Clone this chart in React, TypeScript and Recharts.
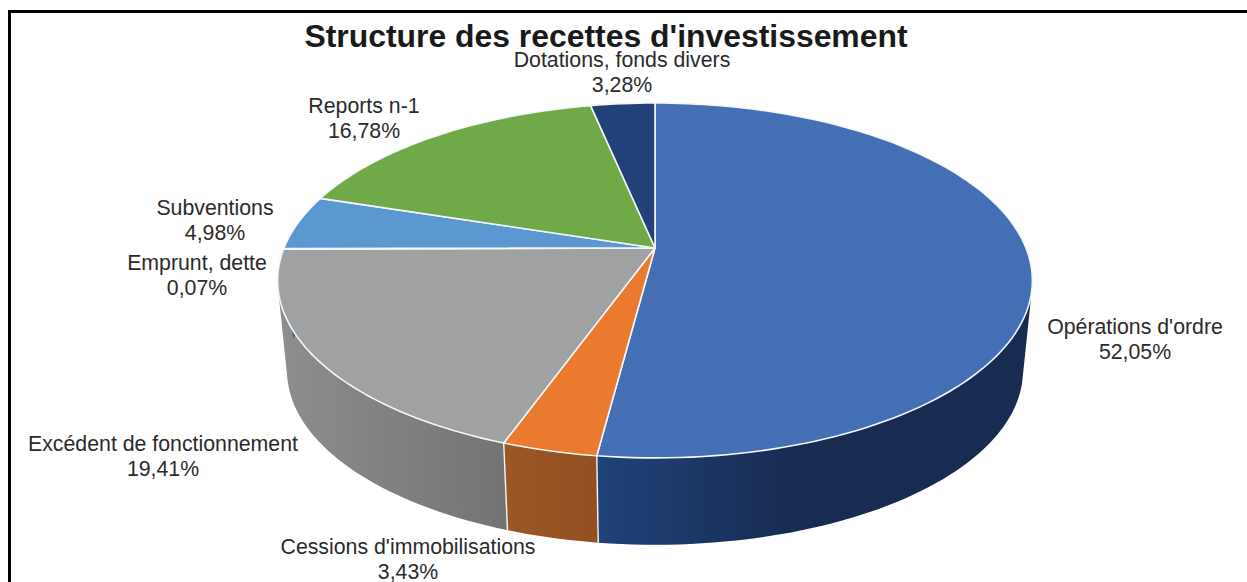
import { PieChart, Pie } from "recharts";

const categories = [
  "Opérations d'ordre",
  "Cessions d'immobilisations",
  "Excédent de fonctionnement",
  "Emprunt, dette",
  "Subventions",
  "Reports n-1",
  "Dotations, fonds divers",
];
const values = [52.05, 3.43, 19.41, 0.07, 4.98, 16.78, 3.28];

const topColors = ["#446fb5", "#e97a2e", "#9fa1a3", "#f2b705", "#5b97d1", "#70aa48", "#234179"];
// left / right colours of the side wall of each slice
const wallColors = [
  ["#1f4279", "#182b50"],
  ["#9c5726", "#934f22"],
  ["#8e8e8e", "#737373"],
  ["#8e8e8e", "#8e8e8e"],
  ["#3d6a94", "#3d6a94"],
  ["#4f7a32", "#4f7a32"],
  ["#182d52", "#182d52"],
];
// centre x, first baseline
const labelSpots = [
  [1135, 334],
  [408, 554],
  [163, 451],
  [197, 270],
  [215, 215],
  [364, 113],
  [622, 67],
];

const data = categories.map((name, i) => ({ name, value: values[i] }));

const WIDTH = 1247;
const HEIGHT = 582;
const CX = 655;
const CY = 248;
const RADIUS = 371;
const SQUASH = 171.5 / 371; // flattening of the disc
const TILT = 0.183; // perspective strength
const SEAM = "#f4f6f8";
const TEXT = "#2b2b2b";
const FONT = "'Liberation Sans', Arial, sans-serif";

// recharts angle (degrees, counter clockwise from 3 o'clock) -> point on the tilted disc
function topPoint(angle: number, cx: number, cy: number, r: number) {
  const rad = (angle * Math.PI) / 180;
  const u = Math.cos(rad);
  const v = Math.sin(rad);
  const d = 1 + TILT * v;
  return { x: cx + (r * u) / d, y: cy - (r * SQUASH * v) / d };
}

// same point on the bottom disc
function bottomPoint(angle: number, cx: number, cy: number, r: number) {
  const p = topPoint(angle, cx, cy, r);
  return { x: cx + 0.975 * (p.x - cx), y: 0.98 * p.y + 96 };
}

function arcAngles(start: number, end: number) {
  const steps = Math.max(2, Math.ceil(Math.abs(end - start) / 1.5));
  const out: number[] = [];
  for (let i = 0; i <= steps; i++) out.push(start + ((end - start) * i) / steps);
  return out;
}

const sinOf = (deg: number) => Math.sin((deg * Math.PI) / 180);
const cosOf = (deg: number) => Math.cos((deg * Math.PI) / 180);

function TopSlice(props: any) {
  const { cx, cy, outerRadius, startAngle, endAngle, index } = props;
  const pts = arcAngles(startAngle, endAngle).map((a) => topPoint(a, cx, cy, outerRadius));
  const d =
    `M${cx},${cy} ` + pts.map((p) => `L${p.x.toFixed(2)},${p.y.toFixed(2)}`).join(" ") + " Z";
  return <path d={d} fill={topColors[index]} stroke={SEAM} strokeWidth={1.6} strokeLinejoin="round" />;
}

function WallSlice(props: any) {
  const { cx, cy, outerRadius, startAngle, endAngle, index } = props;
  const angles = arcAngles(startAngle, endAngle);
  // slices at the back of the pie have no visible wall
  if (!angles.some((a) => sinOf(a) < -0.001)) return <g />;
  const top = angles.map((a) => topPoint(a, cx, cy, outerRadius));
  const bottom = angles.map((a) => bottomPoint(a, cx, cy, outerRadius));
  // one quad per step, all wound the same way, so the tangent edge of the wall comes out straight
  const quads: string[] = [];
  for (let i = 0; i < angles.length - 1; i++) {
    const q = [top[i], top[i + 1], bottom[i + 1], bottom[i]];
    let area = 0;
    q.forEach((p, k) => {
      const n = q[(k + 1) % 4];
      area += p.x * n.y - n.x * p.y;
    });
    if (area < 0) q.reverse();
    quads.push(q.map((p, k) => `${k ? "L" : "M"}${p.x.toFixed(2)},${p.y.toFixed(2)}`).join(" ") + " Z");
  }
  const xs = [...top, ...bottom].map((p) => p.x);
  const id = `wall-${index}`;
  const [left, right] = wallColors[index];
  // the big blue wall reaches its dark tone well before the right edge
  const x2 = index === 0 ? 800 : Math.max(...xs);
  const x1 = index === 0 ? 597 : Math.min(...xs);
  const showSeam = sinOf(startAngle) < 0 && Math.abs(cosOf(startAngle)) < 0.8;
  return (
    <g>
      <defs>
        <linearGradient id={id} gradientUnits="userSpaceOnUse" x1={x1} y1={0} x2={x2} y2={0}>
          <stop offset="0" stopColor={left} />
          <stop offset="1" stopColor={right} />
        </linearGradient>
      </defs>
      <path d={quads.join(" ")} fill={`url(#${id})`} fillRule="nonzero" />
      {showSeam && (
        <line x1={top[0].x} y1={top[0].y} x2={bottom[0].x} y2={bottom[0].y} stroke={SEAM} strokeWidth={1.4} />
      )}
    </g>
  );
}

function SliceLabel(props: any) {
  const { index, name, value } = props;
  const [x, y] = labelSpots[index];
  return (
    <text x={x} y={y} textAnchor="middle" fill={TEXT} fontFamily={FONT} fontSize={21.3}>
      <tspan x={x}>{name}</tspan>
      <tspan x={x} dy={24.5}>
        {value.toFixed(2).replace(".", ",")}%
      </tspan>
    </text>
  );
}

export default function App() {
  return (
    <div style={{ position: "absolute", left: 0, top: 0, width: WIDTH, height: HEIGHT, background: "#fff" }}>
      <PieChart width={WIDTH} height={HEIGHT} margin={{ top: 0, right: 0, bottom: 0, left: 0 }}>
        <path d={`M9.5,${HEIGHT} V11.5 H${WIDTH}`} fill="none" stroke="#000" strokeWidth={3} />
        <Pie
          data={data}
          dataKey="value"
          nameKey="name"
          cx={CX}
          cy={CY}
          innerRadius={0}
          outerRadius={RADIUS}
          startAngle={90}
          endAngle={-270}
          paddingAngle={0}
          stroke="none"
          shape={WallSlice}
          isAnimationActive={false}
        />
        <Pie
          data={data}
          dataKey="value"
          nameKey="name"
          cx={CX}
          cy={CY}
          innerRadius={0}
          outerRadius={RADIUS}
          startAngle={90}
          endAngle={-270}
          paddingAngle={0}
          shape={TopSlice}
          label={SliceLabel}
          labelLine={false}
          isAnimationActive={false}
        />
        <text x={606} y={47} textAnchor="middle" fill="#1a1a1a" fontFamily={FONT} fontWeight={700} fontSize={31.9}>
          Structure des recettes d'investissement
        </text>
      </PieChart>
    </div>
  );
}
